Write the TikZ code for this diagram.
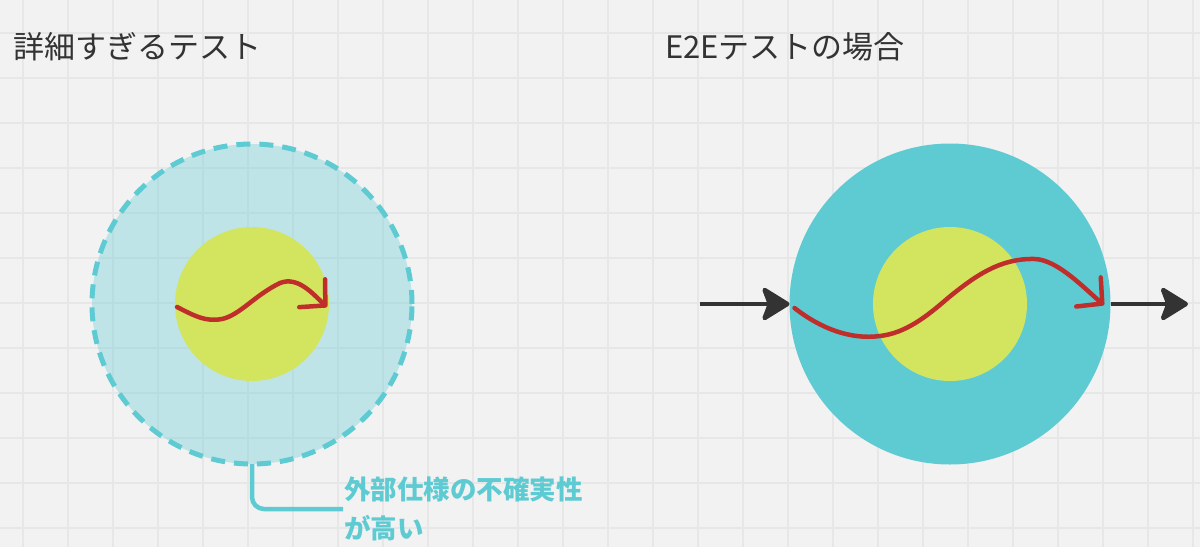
\documentclass[tikz,border=0pt]{standalone}
\usepackage{fontspec}
\setmainfont{Noto Sans CJK JP}
\usepackage{tikz}
\usetikzlibrary{arrows.meta, positioning}
\definecolor{bggray}{HTML}{F2F2F2}
\definecolor{gridgray}{HTML}{E7E7E7}
\definecolor{tealc}{HTML}{5ECBD3}
\definecolor{limec}{HTML}{D3E55F}
\definecolor{redc}{HTML}{BF2E2A}
\definecolor{darkc}{HTML}{333333}
\tikzset{
	gridline/.style={gridgray, line width=1.4pt},
	outerdash/.style={circle, inner sep=0pt, outer sep=0pt, minimum size=320pt, fill=tealc, fill opacity=0.35, draw=tealc, draw opacity=1, line width=5pt, dash pattern=on 14pt off 9pt},
	outerfull/.style={circle, inner sep=0pt, outer sep=0pt, minimum size=321pt, fill=tealc},
	core/.style={circle, inner sep=0pt, outer sep=0pt, minimum size=154pt, fill=limec},
	path/.style={redc, line width=4.5pt, line cap=round, line join=round, -{Straight Barb[length=18pt, width=38pt, round]}},
	flow/.style={darkc, line width=4.5pt, -{Stealth[length=31pt, width=38pt, inset=7pt, round]}},
	callout/.style={tealc, line width=4.5pt, rounded corners=12pt},
	title/.style={anchor=west, inner sep=0pt, text=darkc, font=\fontsize{31}{36}\selectfont},
}
\begin{document}
\begin{tikzpicture}[x=1pt, y=-1pt]

\def \xw{1200}
\def \xh{547}

\fill[bggray] (0,0) rectangle (\xw,\xh); % background
\useasboundingbox (0,0) rectangle (\xw,\xh);

\foreach \x in {23,68,...,1193} {
	\draw[gridline] (\x,0) -- (\x,\xh); % x help line
}
\foreach \y in {33,78,...,540} {
	\draw[gridline] (0,\y) -- (\xw,\y); % y help line
}

% too detailed test
\node[outerdash] (outerL) at (252,304) {};
\node[core] (coreL) at (252,304) {};
\draw[path] (coreL.west) ++(2,3) .. controls (195,316) and (205,322) .. (222,319)
	.. controls (240,315) and (255,295) .. (280,283)
	.. controls (298,276) and (313,294) .. (327,307);

% e2e test
\node[outerfull] (outerR) at (950,304) {};
\node[core] (coreR) at (950,304) {};
\draw[path] (outerR.west) ++(5,4) .. controls (820,328) and (850,340) .. (880,336)
	.. controls (905,333) and (925,318) .. (948,298)
	.. controls (975,276) and (1000,258) .. (1035,259)
	.. controls (1058,260) and (1085,289) .. (1104,305);

\coordinate (inR) at (700,304);
\coordinate (outR) at (1188,304);
\draw[flow] (inR) -- (outerR.west); % input
\draw[flow] (outerR.east) -- (outR); % output

\node[title] (titleL) at (13,47) {詳細すぎるテスト};
\node[title] (titleR) at (665,47) {E2Eテストの場合};

\node[anchor=west, inner sep=0pt, align=left, text=tealc, font=\fontsize{26.5}{39}\selectfont\bfseries] (lbl) at (344,509) {外部仕様の不確実性\\が高い};
\draw[callout] (outerL.south) |- ([xshift=-1pt]lbl.west); % callout line

\end{tikzpicture}
\end{document}
